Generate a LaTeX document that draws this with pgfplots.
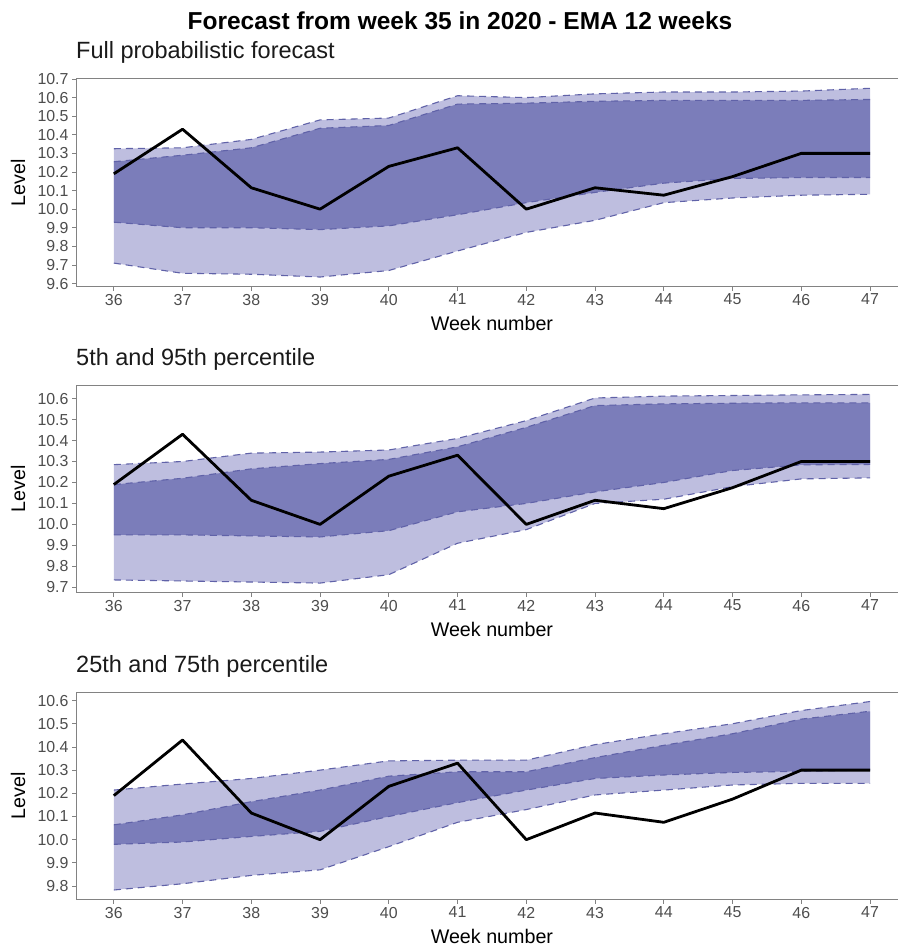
\documentclass[border=0pt]{standalone}
\usepackage{pgfplots}
\pgfplotsset{compat=1.18}
\usepackage{pgfplotstable}
\usepgfplotslibrary{fillbetween}
\usepackage{fontspec}
\setmainfont{Liberation Sans}

\definecolor{lightband}{RGB}{190,190,223}
\definecolor{darkband}{RGB}{123,125,186}
\definecolor{dashc}{RGB}{96,98,168}
\definecolor{axisc}{RGB}{130,130,130}
\definecolor{tickc}{RGB}{77,77,77}
\definecolor{textc}{RGB}{26,26,26}

\pgfplotstableread{
w obs olo ilo ihi ohi
36 10.19 9.71 9.93 10.255 10.325
37 10.43 9.655 9.90 10.29 10.33
38 10.115 9.65 9.90 10.33 10.375
39 10.00 9.635 9.89 10.435 10.48
40 10.23 9.67 9.91 10.45 10.49
41 10.33 9.775 9.97 10.565 10.61
42 10.00 9.875 10.035 10.57 10.60
43 10.115 9.94 10.09 10.58 10.62
44 10.075 10.035 10.14 10.585 10.63
45 10.175 10.06 10.165 10.585 10.63
46 10.30 10.075 10.17 10.585 10.635
47 10.30 10.08 10.17 10.59 10.65
}\tabA

\pgfplotstableread{
w obs olo ilo ihi ohi
36 10.19 9.735 9.95 10.19 10.285
37 10.43 9.73 9.95 10.22 10.30
38 10.115 9.725 9.945 10.265 10.34
39 10.00 9.72 9.94 10.29 10.345
40 10.23 9.76 9.97 10.31 10.355
41 10.33 9.91 10.06 10.37 10.41
42 10.00 9.975 10.10 10.463 10.495
43 10.115 10.10 10.155 10.567 10.603
44 10.075 10.12 10.20 10.575 10.612
45 10.175 10.18 10.257 10.578 10.615
46 10.30 10.217 10.284 10.58 10.618
47 10.30 10.222 10.286 10.58 10.62
}\tabB

\pgfplotstableread{
w obs olo ilo ihi ohi
36 10.19 9.783 9.98 10.064 10.214
37 10.43 9.81 9.99 10.107 10.24
38 10.115 9.846 10.014 10.164 10.264
39 10.00 9.87 10.036 10.214 10.30
40 10.23 9.97 10.10 10.274 10.34
41 10.33 10.075 10.16 10.293 10.343
42 10.00 10.13 10.214 10.293 10.343
43 10.115 10.193 10.264 10.354 10.41
44 10.075 10.214 10.279 10.407 10.457
45 10.175 10.236 10.29 10.457 10.50
46 10.30 10.243 10.295 10.52 10.557
47 10.30 10.243 10.30 10.554 10.596
}\tabC

\pgfplotsset{
  panel/.style={
    scale only axis, width=822pt, height=207.5pt,
    xmin=35.45, xmax=47.407,
    xtick={36,37,38,39,40,41,42,43,44,45,46,47},
    axis line style={draw=none},
    clip mode=individual,
    tick align=outside, tick pos=left,
    major tick length=4pt,
    tick style={axisc, line width=0.8pt},
    tick label style={font=\fontsize{15.9}{19}\selectfont, text=tickc},
    yticklabel style={/pgf/number format/.cd, fixed, fixed zerofill, precision=1},
    /pgf/number format/assume math mode=true,
    xlabel={Week number}, ylabel={Level},
    label style={font=\fontsize{19.7}{23}\selectfont, text=black},
    xlabel style={at={(axis description cs:0.506,0)}, anchor=base, yshift=-44pt},
    ylabel style={at={(axis description cs:-0.062,0.5)}, anchor=base},
    title style={at={(axis description cs:0,1)}, anchor=base west, inner sep=0pt, yshift=14pt, font=\fontsize{23.5}{28}\selectfont, text=textc},
  },
  dashline/.style={dashc, line width=1.1pt, dash pattern=on 7pt off 5pt},
}

\newcommand{\drawpanel}[1]{%
  \addplot[draw=none, name path=ohi] table[x=w,y=ohi]{#1};
  \addplot[draw=none, name path=olo] table[x=w,y=olo]{#1};
  \addplot[draw=none, name path=ihi] table[x=w,y=ihi]{#1};
  \addplot[draw=none, name path=ilo] table[x=w,y=ilo]{#1};
  \addplot[fill=lightband, draw=none] fill between[of=ohi and olo];
  \addplot[fill=darkband, draw=none] fill between[of=ihi and ilo];
  \addplot[dashline] table[x=w,y=ohi]{#1};
  \addplot[dashline] table[x=w,y=olo]{#1};
  \addplot[dashline] table[x=w,y=ihi]{#1};
  \addplot[dashline] table[x=w,y=ilo]{#1};
  \addplot[black, line width=2.8pt, line join=round] table[x=w,y=obs]{#1};
  \draw[axisc, line width=1pt] (rel axis cs:1,1) -- (rel axis cs:0,1) -- (rel axis cs:0,0) -- (rel axis cs:1,0);
}

\begin{document}
\begin{tikzpicture}
\node[anchor=base, inner sep=0pt] at (460pt,-30pt) {\fontsize{24.5}{29}\selectfont\bfseries Forecast from week 35 in 2020 - EMA 12 weeks};

\begin{axis}[panel, at={(76pt,-79pt)}, anchor=north west,
  ymin=9.584, ymax=10.70,
  ytick={9.6,9.7,9.8,9.9,10.0,10.1,10.2,10.3,10.4,10.5,10.6,10.7},
  title={Full probabilistic forecast}]
\drawpanel{\tabA}
\end{axis}

\begin{axis}[panel, at={(76pt,-385pt)}, anchor=north west,
  ymin=9.675, ymax=10.665,
  ytick={9.7,9.8,9.9,10.0,10.1,10.2,10.3,10.4,10.5,10.6},
  title={5th and 95th percentile}]
\drawpanel{\tabB}
\end{axis}

\begin{axis}[panel, at={(76pt,-692pt)}, anchor=north west,
  ymin=9.742, ymax=10.637,
  ytick={9.8,9.9,10.0,10.1,10.2,10.3,10.4,10.5,10.6},
  title={25th and 75th percentile}]
\drawpanel{\tabC}
\end{axis}
\pgfresetboundingbox
\path[use as bounding box] (0pt,0pt) rectangle (898pt,-947pt);
\end{tikzpicture}
\end{document}
